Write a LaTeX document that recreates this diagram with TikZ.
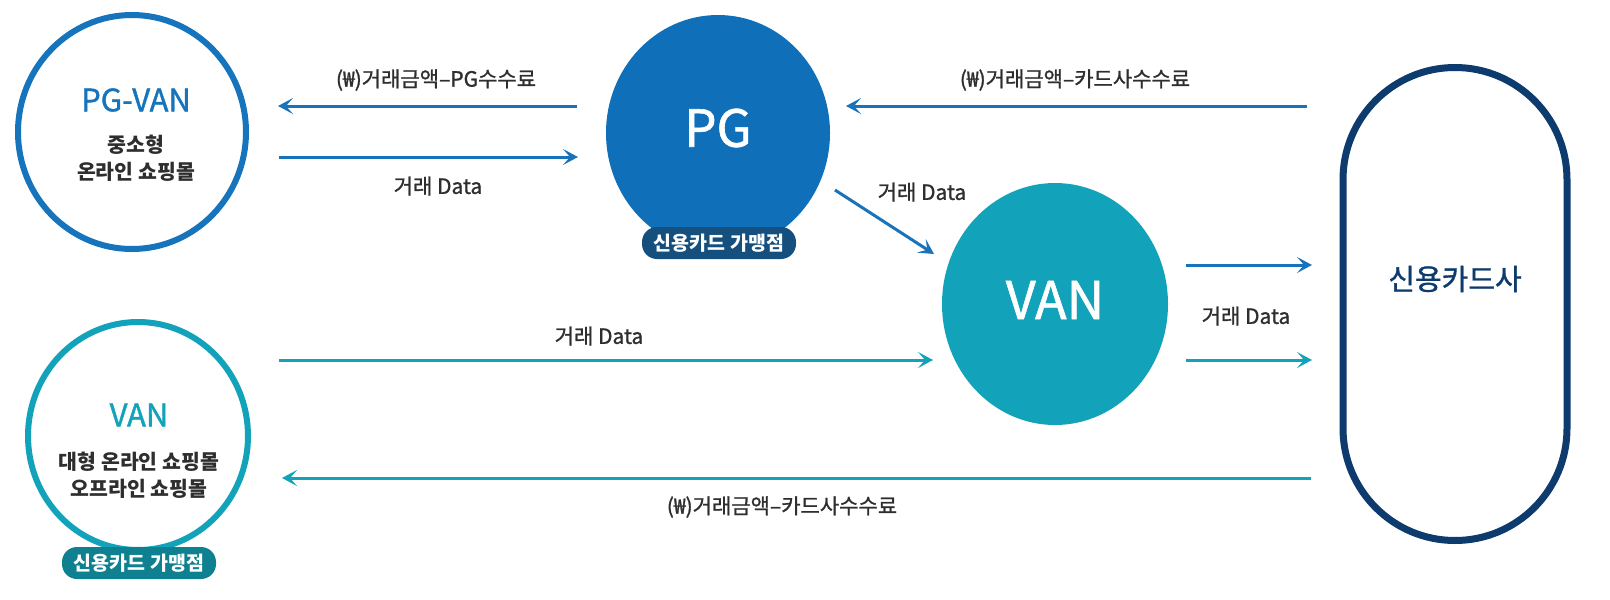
\documentclass[tikz,border=0pt]{standalone}
\usepackage{fontspec}
\setmainfont{Noto Sans CJK KR}
\newfontfamily\medfont[FakeBold=1.2]{Noto Sans CJK KR}
\usetikzlibrary{shapes.geometric,arrows.meta}
\definecolor{pgblue}{HTML}{0F6FB8}
\definecolor{ringblue}{HTML}{1574BC}
\definecolor{arrblue}{HTML}{1873BB}
\definecolor{vteal}{HTML}{12A3BA}
\definecolor{navy}{HTML}{0D3B6E}
\definecolor{badgeblue}{HTML}{144F7E}
\definecolor{badgeteal}{HTML}{0E8090}
\definecolor{txtgrey}{HTML}{2E2E2E}
\begin{document}
\begin{tikzpicture}[x=1pt,y=-1pt,
  arrb/.style={line width=3pt,draw=arrblue,-{Stealth[length=15pt,width=16pt,inset=7pt]}},
  arrt/.style={line width=3pt,draw=vteal,-{Stealth[length=15pt,width=16pt,inset=7pt]}},
  lbl/.style={font=\medfont\fontsize{21}{24}\selectfont, text=txtgrey, inner sep=0pt},
  ring/.style={ellipse, line width=6pt, fill=white, inner sep=0pt},
  blob/.style={ellipse, inner sep=0pt},
  badge/.style={rounded corners=15pt, minimum width=154pt, minimum height=32pt, inner sep=0pt,
     text=white, font=\bfseries\fontsize{19.5}{22}\selectfont},
  subtxt/.style={text=txtgrey, font=\bfseries\fontsize{20.5}{27}\selectfont, align=center, inner sep=0pt},
]
\useasboundingbox (0,0) rectangle (1610,600);

% left upper: PG-VAN
\node[ring, draw=ringblue, minimum width=228pt, minimum height=234pt] (pgvan) at (132,132) {};
\node[text=ringblue, font=\medfont\fontsize{31}{34}\selectfont, inner sep=0pt] (pgvant) at (136,100) {PG-VAN};
\node[subtxt] (pgvans) at (136,158) {중소형\\온라인 쇼핑몰};

% PG
\node[blob, fill=pgblue, minimum width=224pt, minimum height=236pt] (pg) at (718,133) {};
\node[text=white, font=\medfont\fontsize{51}{55}\selectfont, inner sep=0pt] (pgt) at (718,128) {PG};
\node[badge, fill=badgeblue] (b1) at (719,243) {신용카드 가맹점};

% VAN (filled)
\node[blob, fill=vteal, minimum width=226pt, minimum height=242pt] (van) at (1055,304) {};
\node[text=white, font=\medfont\fontsize{52}{56}\selectfont, inner sep=0pt] (vant) at (1055,300) {VAN};

% card company
\node[draw=navy, line width=7pt, rounded corners=112pt, minimum width=224pt, minimum height=473pt, inner sep=0pt] (card) at (1455,304) {};
\node[text=navy, font=\medfont\fontsize{29}{32}\selectfont, inner sep=0pt] (cardt) at (1455,279) {신용카드사};

% left lower: VAN
\node[ring, draw=vteal, minimum width=220pt, minimum height=228pt] (lvan) at (138,436) {};
\node[text=vteal, font=\medfont\fontsize{31}{34}\selectfont, inner sep=0pt] (lvant) at (139,415) {VAN};
\node[subtxt] (lvans) at (139,475) {대형 온라인 쇼핑몰\\오프라인 쇼핑몰};
\node[badge, fill=badgeteal] (b2) at (139,563) {신용카드 가맹점};

% arrow end points
\coordinate (a1s) at (577,106); \coordinate (a1e) at (278,106);
\coordinate (a2s) at (279,157); \coordinate (a2e) at (578,157);
\coordinate (a3s) at (1307,106); \coordinate (a3e) at (846,106);
\coordinate (a4s) at (835,190); \coordinate (a4e) at (934,254);
\coordinate (a5s) at (1186,265); \coordinate (a5e) at (1312,265);
\coordinate (a6s) at (1186,360); \coordinate (a6e) at (1312,360);
\coordinate (a7s) at (279,360); \coordinate (a7e) at (933,360);
\coordinate (a8s) at (1311,478); \coordinate (a8e) at (282,478);

\draw[arrb] (a1s) -- (a1e);
\draw[arrb] (a2s) -- (a2e);
\draw[arrb] (a3s) -- (a3e);
\draw[arrb] (a4s) -- (a4e);
\draw[arrb] (a5s) -- (a5e);
\draw[arrt] (a6s) -- (a6e);
\draw[arrt] (a7s) -- (a7e);
\draw[arrt] (a8s) -- (a8e);

% labels
\node[lbl] (l1) at (436,80) {(₩)거래금액–PG수수료};
\node[lbl] (l2) at (438,186) {거래 Data};
\node[lbl] (l3) at (1075,80) {(₩)거래금액–카드사수수료};
\node[lbl] (l4) at (922,192) {거래 Data};
\node[lbl] (l5) at (1246,316) {거래 Data};
\node[lbl] (l6) at (599,336) {거래 Data};
\node[lbl] (l7) at (782,507) {(₩)거래금액–카드사수수료};
\end{tikzpicture}
\end{document}
